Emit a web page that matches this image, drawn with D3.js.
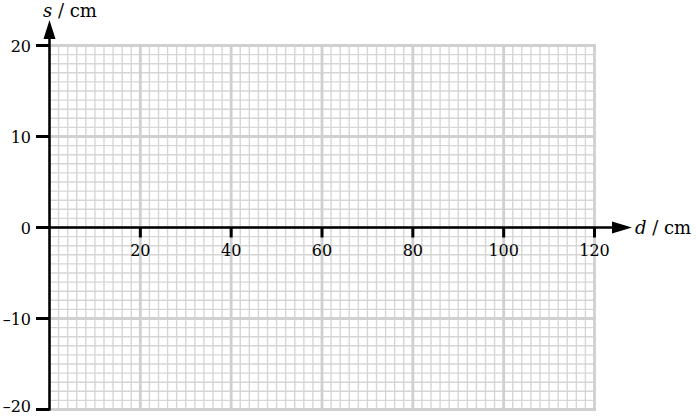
<!DOCTYPE html>
<html>
<head>
<meta charset="utf-8">
<script src="https://cdn.jsdelivr.net/npm/d3@7"></script>
<style>
html,body{margin:0;padding:0;background:#fff;}
svg{display:block;}
text{font-family:"DejaVu Serif","Liberation Serif",serif;fill:#000;}
</style>
</head>
<body>
<svg id="chart" width="696" height="416"></svg>
<script>
// Axis domains and tick labels
const xDomain = [0, 120];
const yDomain = [-20, 20];
const xTickValues = [20, 40, 60, 80, 100, 120];
const yTickValues = [20, 10, 0, -10, -20];
const xMinorStep = [2];
const yMinorStep = [1];
const xAxisLabel = ["d", " / cm"];
const yAxisLabel = ["s", " / cm"];

const svg = d3.select("#chart");
const x = d3.scaleLinear().domain(xDomain).range([49.5, 594.5]);
const y = d3.scaleLinear().domain(yDomain).range([409.5, 45.5]);

const minorX = d3.range(xDomain[0], xDomain[1] + 0.001, xMinorStep[0]);
const minorY = d3.range(yDomain[0], yDomain[1] + 0.001, yMinorStep[0]);
const majorX = d3.range(xDomain[0], xDomain[1] + 0.001, 20);
const majorY = d3.range(yDomain[0], yDomain[1] + 0.001, 10);

const grid = svg.append("g");
// minor grid
grid.selectAll(".mx").data(minorX).join("line")
  .attr("x1", d => x(d)).attr("x2", d => x(d))
  .attr("y1", y(yDomain[1])).attr("y2", y(yDomain[0]))
  .attr("stroke", "#d6d6d6").attr("stroke-width", 1.4);
grid.selectAll(".my").data(minorY).join("line")
  .attr("y1", d => y(d)).attr("y2", d => y(d))
  .attr("x1", x(xDomain[0])).attr("x2", x(xDomain[1]))
  .attr("stroke", "#d6d6d6").attr("stroke-width", 1.4);
// major grid
grid.selectAll(".Mx").data(majorX).join("line")
  .attr("x1", d => x(d)).attr("x2", d => x(d))
  .attr("y1", y(yDomain[1]) - 1).attr("y2", y(yDomain[0]) + 1)
  .attr("stroke", "#d0d0d0").attr("stroke-width", 2.8);
grid.selectAll(".My").data(majorY).join("line")
  .attr("y1", d => y(d)).attr("y2", d => y(d))
  .attr("x1", x(xDomain[0])).attr("x2", x(xDomain[1]) + 1.4)
  .attr("stroke", "#d0d0d0").attr("stroke-width", 2.8);

// axes lines
const ax = svg.append("g");
ax.append("line")
  .attr("x1", x(0)).attr("x2", 614)
  .attr("y1", y(0)).attr("y2", y(0))
  .attr("stroke", "#000").attr("stroke-width", 2.5);
ax.append("path")
  .attr("d", `M612,${y(0) - 6} L632,${y(0)} L612,${y(0) + 6} Z`)
  .attr("fill", "#000");
ax.append("line")
  .attr("x1", x(0)).attr("x2", x(0))
  .attr("y1", y(yDomain[0]) + 1).attr("y2", 38)
  .attr("stroke", "#000").attr("stroke-width", 2.5);
ax.append("path")
  .attr("d", `M${x(0) - 6},39 L${x(0)},20 L${x(0) + 6},39 Z`)
  .attr("fill", "#000");

// y ticks
const yt = svg.append("g").selectAll("g").data(yTickValues).join("g");
yt.append("line")
  .attr("x1", 36).attr("x2", x(0))
  .attr("y1", d => y(d)).attr("y2", d => y(d))
  .attr("stroke", "#000").attr("stroke-width", 3);
yt.append("text")
  .attr("x", 31).attr("y", d => Math.min(y(d) + 6, 411.5))
  .attr("text-anchor", "end").attr("font-size", 16)
  .text(d => d < 0 ? "\u2013" + Math.abs(d) : d);

// x ticks
const xt = svg.append("g").selectAll("g").data(xTickValues).join("g");
xt.append("line")
  .attr("x1", d => x(d)).attr("x2", d => x(d))
  .attr("y1", y(0)).attr("y2", y(0) + 10)
  .attr("stroke", "#000").attr("stroke-width", 3);
xt.append("text")
  .attr("x", d => x(d)).attr("y", y(0) + 28)
  .attr("text-anchor", "middle").attr("font-size", 16)
  .text(d => d);

// axis labels
const yl = svg.append("text").attr("x", 43).attr("y", 17).attr("font-size", 18);
yl.append("tspan").attr("font-style", "italic").text(yAxisLabel[0]);
yl.append("tspan").text(yAxisLabel[1]);
const xl = svg.append("text").attr("x", 635).attr("y", y(0) + 6).attr("font-size", 18);
xl.append("tspan").attr("font-style", "italic").text(xAxisLabel[0]);
xl.append("tspan").text(xAxisLabel[1]);
</script>
</body>
</html>
